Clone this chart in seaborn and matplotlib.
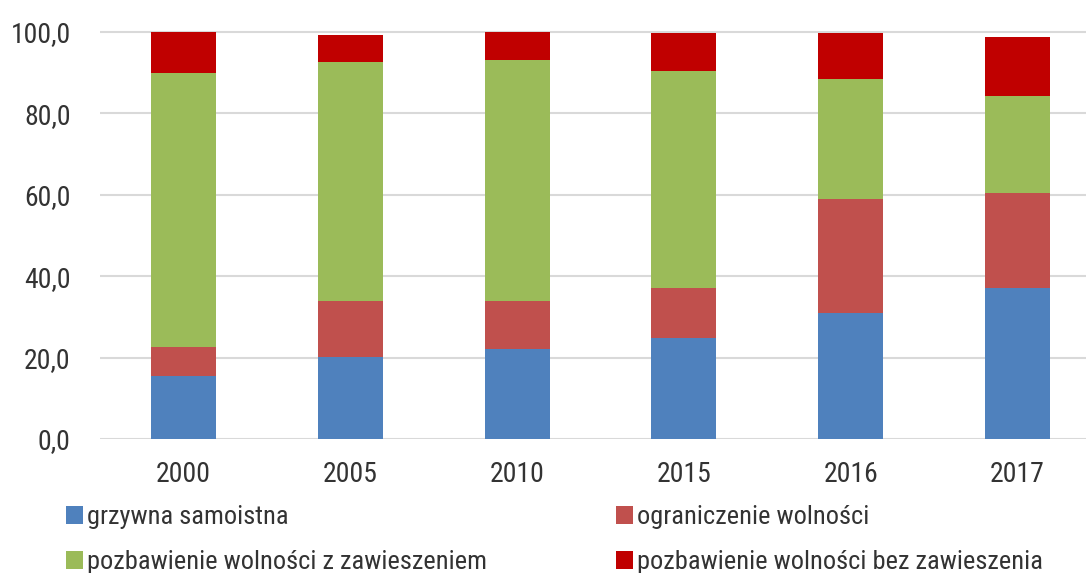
import matplotlib
matplotlib.use('Agg')
import matplotlib.pyplot as plt
import seaborn as sns
from matplotlib import font_manager
from matplotlib.patches import Patch
from matplotlib.ticker import FuncFormatter

# data (share in %)
years = ['2000', '2005', '2010', '2015', '2016', '2017']
grzywna = [15.6, 20.2, 22.1, 24.9, 31.0, 37.1]
ograniczenie = [6.9, 13.6, 11.7, 12.2, 28.0, 23.4]
z_zawieszeniem = [67.4, 58.9, 59.4, 53.3, 29.5, 23.8]
bez_zawieszenia = [10.1, 6.6, 6.8, 9.3, 11.3, 14.5]

labels = ['grzywna samoistna', 'ograniczenie wolności',
          'pozbawienie wolności z zawieszeniem',
          'pozbawienie wolności bez zawieszenia']
colors = ['#4F81BD', '#C0504D', '#9BBB59', '#C00000']
series = [grzywna, ograniczenie, z_zawieszeniem, bez_zawieszenia]

sns.set_theme(style='white')
available = {f.name for f in font_manager.fontManager.ttflist}
candidates = ['Liberation Sans Narrow', 'DejaVu Sans Condensed',
              'Roboto Condensed', 'Liberation Sans']
family = next((f for f in candidates if f in available), 'DejaVu Sans')
plt.rcParams['font.family'] = [family, 'DejaVu Sans']
text_color = '#333333'

W, H = 1086, 573
fig = plt.figure(figsize=(W / 100, H / 100), dpi=100)
ymax = 100.5
ax = fig.add_axes([100 / W, (H - 439) / H, 1001 / W, 407 * ymax / 100 / H])

bottom = [0.0] * len(years)
for vals, color in zip(series, colors):
    sns.barplot(x=years, y=vals, bottom=bottom, color=color, width=0.39,
                saturation=1, errorbar=None, linewidth=0, ax=ax)
    bottom = [b + v for b, v in zip(bottom, vals)]

ax.set_xlim(-0.5, 5.5)
ax.set_ylim(0, ymax)
ax.set_yticks(range(0, 101, 20))
ax.yaxis.set_major_formatter(FuncFormatter(lambda v, p: f'{v:.1f}'.replace('.', ',')))
ax.yaxis.grid(True, color='#D9D9D9', linewidth=1.5)
ax.set_axisbelow(True)
sns.despine(ax=ax, left=True, bottom=True)
ax.tick_params(axis='both', length=0, labelsize=20, colors=text_color)
ax.tick_params(axis='y', pad=21)
ax.tick_params(axis='x', pad=16)
ax.set_xlabel('')
ax.set_ylabel('')

handles = [Patch(facecolor=c, edgecolor='none') for c in colors]
leg_kw = dict(loc='upper left', frameon=False, fontsize=19, handlelength=0.65,
              handleheight=0.65, handletextpad=0.15, labelspacing=0.8,
              borderpad=0, borderaxespad=0, labelcolor=text_color)
fig.legend([handles[0], handles[2]], [labels[0], labels[2]],
           bbox_to_anchor=(66 / W, 1 - 505 / H), **leg_kw)
fig.legend([handles[1], handles[3]], [labels[1], labels[3]],
           bbox_to_anchor=(616 / W, 1 - 505 / H), **leg_kw)

fig.savefig('out.png', dpi=100)
